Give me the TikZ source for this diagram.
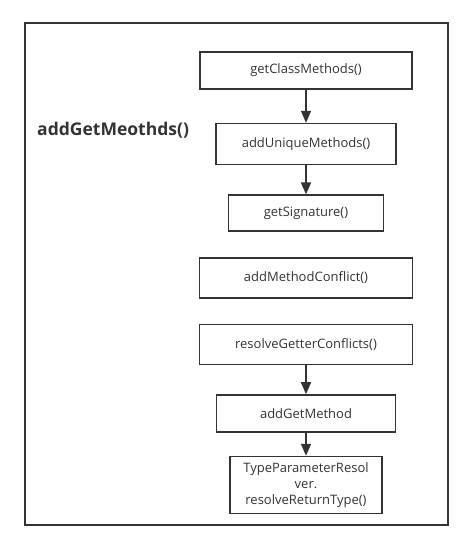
\documentclass[tikz,border=0pt]{standalone}
\usepackage{fontspec}
\setmainfont{Open Sans}
\usepackage{tikz}
\usetikzlibrary{arrows.meta, positioning}
\definecolor{ink}{HTML}{333333}
\tikzset{
  block/.style={rectangle, draw=ink, line width=1.6pt, minimum height=37pt,
    align=center, inner sep=2pt, text=ink, font=\fontsize{13}{16}\selectfont},
  arr/.style={-{Triangle[length=12pt, width=10pt]}, line width=1.6pt, draw=ink},
  frame/.style={rectangle, draw=ink, line width=1.8pt},
}
\begin{document}
\begin{tikzpicture}[x=1pt, y=-1pt]
  \useasboundingbox (0,0) rectangle (469,545);
  % outer frame
  \node[frame, minimum width=423pt, minimum height=502pt, anchor=north west] (box) at (24,22) {};

  % title
  \node[anchor=west, inner sep=0pt, text=ink, font=\fontsize{17.5}{20}\selectfont\bfseries] (title) at (37,130) {addGetMeothds()};

  % first chain
  \node[block, minimum width=212pt] (gcm) at (306,70.5) {getClassMethods()};
  \node[block, minimum width=180pt, minimum height=41pt, below=33pt of gcm] (aum) {addUniqueMethods()};
  \node[block, minimum width=155pt, minimum height=36pt, below=29pt of aum] (gsig) {getSignature()};

  % conflicts
  \node[block, minimum width=213pt, minimum height=40pt, below=25pt of gsig] (amc) {addMethodConflict()};
  \node[block, minimum width=213pt, minimum height=40pt, below=25pt of amc] (rgc) {resolveGetterConflicts()};

  % second chain
  \node[block, minimum width=179pt, below=29pt of rgc] (agm) {addGetMethod};
  \node[block, minimum width=152pt, minimum height=57pt, below=23pt of agm] (tpr) {TypeParameterResol\\ver.\\resolveReturnType()};

  \draw[arr] (gcm) -- (aum);
  \draw[arr] (aum) -- (gsig);
  \draw[arr] (rgc) -- (agm);
  \draw[arr] (agm) -- (tpr);
\end{tikzpicture}
\end{document}
